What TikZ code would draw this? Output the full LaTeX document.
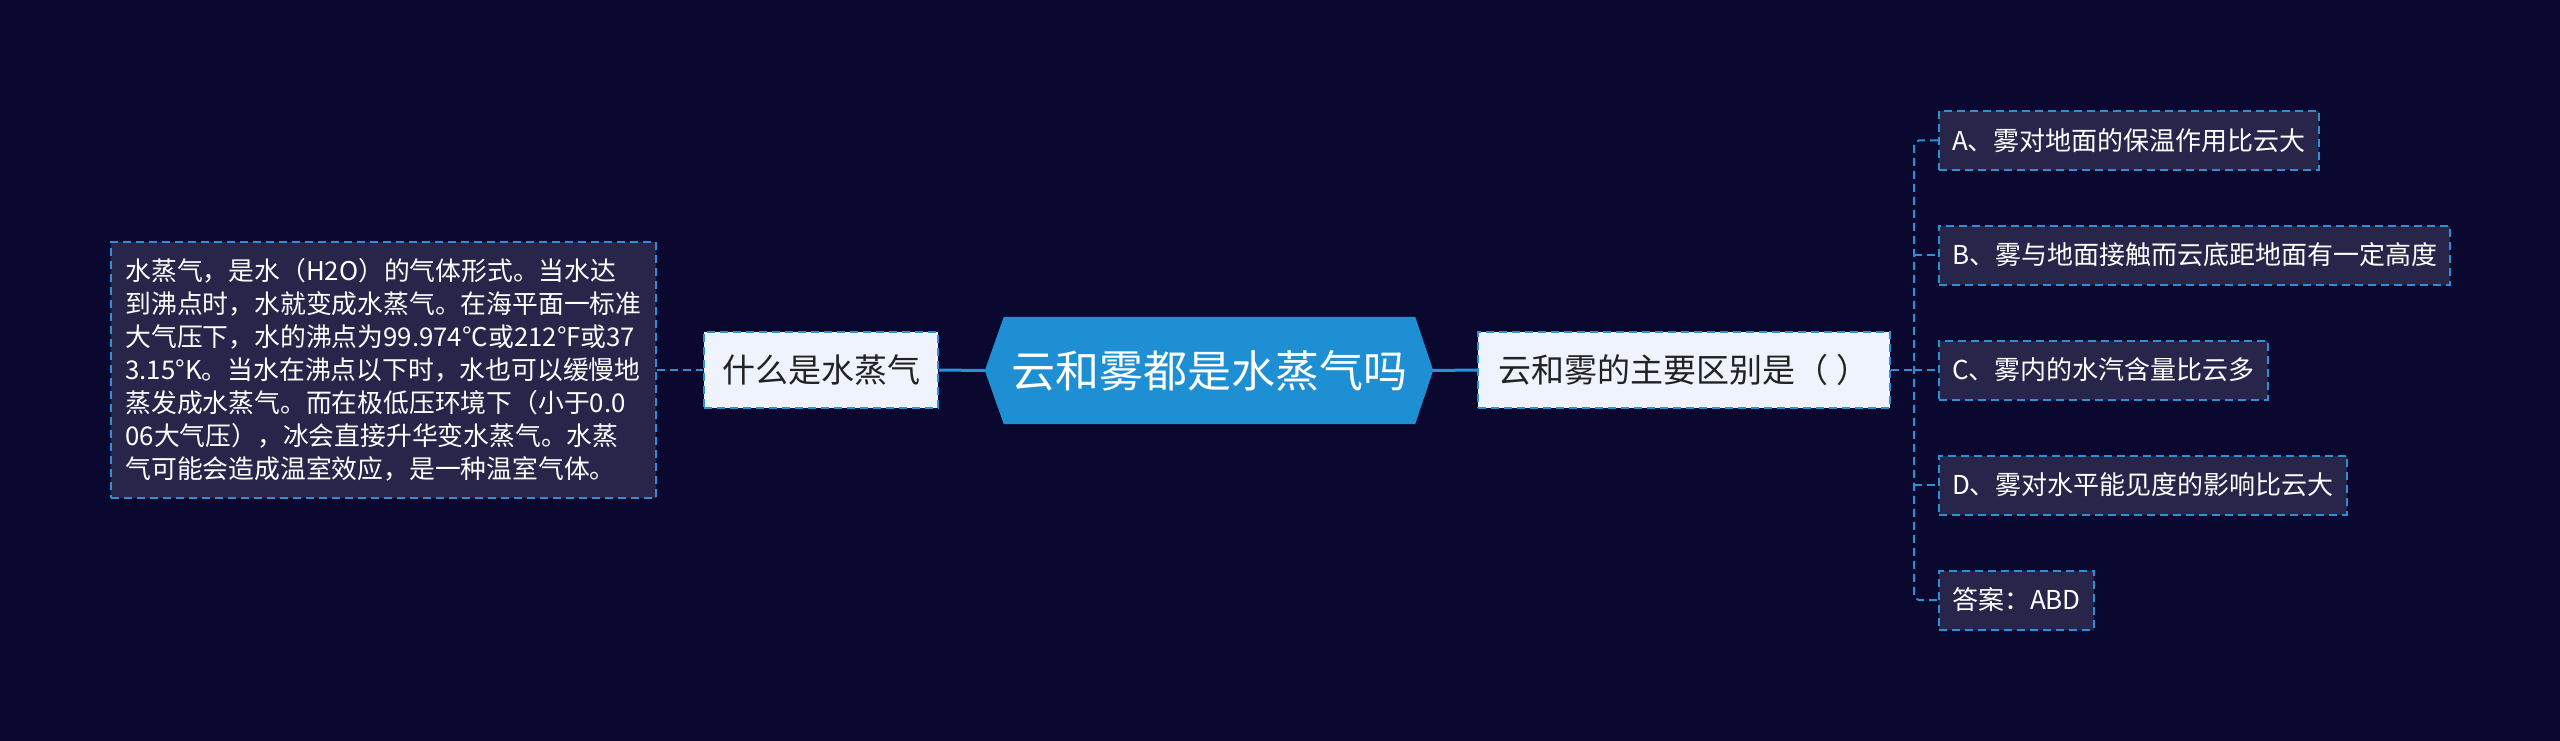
\documentclass[tikz,border=0pt]{standalone}
\usepackage{fontspec}
\setmainfont{Noto Sans CJK SC}
\usetikzlibrary{backgrounds}
\definecolor{bgc}{HTML}{0B0830}
\definecolor{hexc}{HTML}{1D8FD2}
\definecolor{linec}{HTML}{2A90D8}
\definecolor{lightc}{HTML}{EEF3FD}
\definecolor{darkc}{HTML}{28254B}
\definecolor{txtc}{HTML}{222222}
\begin{document}
\begin{tikzpicture}[x=1pt,y=-1pt,
  dashedge/.style={draw=linec, line width=2pt, dash pattern=on 8pt off 5pt},
  lightbox/.style={dashedge, fill=lightc, text=txtc, inner sep=0pt, minimum height=76pt, font=\fontsize{33}{40}\selectfont},
  darkbox/.style={dashedge, fill=darkc, text=white, inner xsep=13pt, inner ysep=0pt, minimum height=59pt, font=\fontsize{26}{32}\selectfont, anchor=west},
  solidlink/.style={draw=linec, line width=3pt},
  dashlink/.style={draw=linec, line width=2pt, dash pattern=on 8pt off 5pt}]
\begin{pgfonlayer}{background}
\fill[bgc] (0,0) rectangle (2560,741);
\end{pgfonlayer}
\useasboundingbox (0,0) rectangle (2560,741);

% central topic
\node[text=white, font=\fontsize{44}{50}\selectfont, minimum width=411pt, minimum height=107pt, inner sep=0pt] (c) at (1209.5,370.5) {云和雾都是水蒸气吗};
\coordinate (cw) at ([xshift=-19pt]c.west);
\coordinate (ce) at ([xshift=18pt]c.east);
\begin{pgfonlayer}{background}
\fill[hexc] (c.north west) -- (c.north east) -- (ce) -- (c.south east) -- (c.south west) -- (cw) -- cycle;
\end{pgfonlayer}

% left branch
\node[lightbox, minimum width=234pt] (l1) at (821,370) {什么是水蒸气};
\node[dashedge, fill=darkc, text=white, inner sep=0pt, minimum width=545pt, minimum height=256pt, align=left, font=\fontsize{25.8}{33}\selectfont] (t) at (383.5,370) {水蒸气，是水（H2O）的气体形式。当水达\\到沸点时，水就变成水蒸气。在海平面一标准\\大气压下，水的沸点为99.974°C或212°F或37\\3.15°K。当水在沸点以下时，水也可以缓慢地\\蒸发成水蒸气。而在极低压环境下（小于0.0\\06大气压），冰会直接升华变水蒸气。水蒸\\气可能会造成温室效应，是一种温室气体。};

% right branch
\node[lightbox, minimum width=412pt] (r1) at (1684,370) {云和雾的主要区别是（ ）};
\node[darkbox] (a) at (1938,140.5) {A、雾对地面的保温作用比云大};
\node[darkbox] (b) at (1938,255) {B、雾与地面接触而云底距地面有一定高度};
\node[darkbox] (cc) at (1938,370) {C、雾内的水汽含量比云多};
\node[darkbox] (d) at (1938,485) {D、雾对水平能见度的影响比云大};
\node[darkbox] (e) at (1938,600) {答案：ABD};
\coordinate (tr) at (1914,370);

% connectors
\draw[solidlink] (l1.east) -- (cw);
\draw[solidlink] (ce) -- (r1.west);
\draw[dashlink] (t.east) -- (l1.west);
\draw[dashlink] (r1.east) -- (tr);
\draw[dashlink, rounded corners=5pt] (a.west) -- (tr |- a.west) -- (tr |- e.west) -- (e.west);
\draw[dashlink] (tr |- b.west) -- (b.west);
\draw[dashlink] (tr |- cc.west) -- (cc.west);
\draw[dashlink] (tr |- d.west) -- (d.west);
\end{tikzpicture}
\end{document}
